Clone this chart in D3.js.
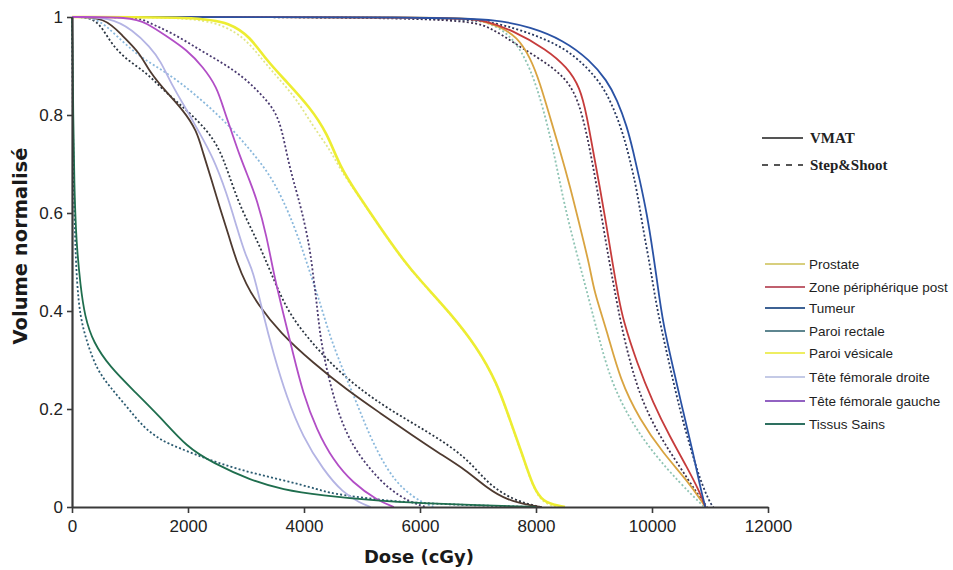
<!DOCTYPE html>
<html><head><meta charset="utf-8">
<script src="https://cdn.jsdelivr.net/npm/d3@7"></script>
<style>body{margin:0;background:#fff}svg{display:block}</style>
</head><body><svg id="c" width="953" height="570"></svg>
<script>
// ---------- data ----------
const xTicks = [0, 2000, 4000, 6000, 8000, 10000, 12000];
const yTicks = [0, 0.2, 0.4, 0.6, 0.8, 1];
const structures = ["Prostate","Zone périphérique post","Tumeur","Paroi rectale","Paroi vésicale","Tête fémorale droite","Tête fémorale gauche","Tissus Sains"];
const techniques = ["VMAT","Step&Shoot"];

// [dose (cGy), normalised volume]
const prostateVMAT = [[0,1],[6700,1],[7030,0.994],[7380,0.98],[7670,0.96],[7900,0.918],[8070,0.865],[8240,0.796],[8410,0.729],[8590,0.653],[8760,0.571],[8930,0.49],[9000,0.44],[9220,0.361],[9450,0.259],[9790,0.178],[10190,0.11],[10600,0.055],[10880,0.008],[10920,0]];
const prostateSS = [[0,1],[6700,1],[7200,0.99],[7600,0.96],[7900,0.898],[8120,0.816],[8300,0.729],[8470,0.627],[8640,0.545],[8810,0.47],[9050,0.361],[9280,0.259],[9620,0.178],[10020,0.11],[10480,0.049],[10830,0.008],[10900,0]];
const zoneVMAT = [[0,1],[6700,1],[7100,0.993],[7600,0.973],[8190,0.933],[8530,0.898],[8760,0.857],[8880,0.796],[8980,0.729],[9100,0.653],[9220,0.571],[9330,0.49],[9420,0.43],[9500,0.382],[9740,0.294],[10020,0.212],[10310,0.143],[10600,0.082],[10830,0.029],[10920,0]];
const zoneSS = [[0,1],[6700,1],[7210,0.98],[7720,0.939],[8300,0.898],[8640,0.857],[8810,0.796],[8930,0.729],[9050,0.653],[9160,0.571],[9280,0.49],[9360,0.44],[9450,0.382],[9620,0.294],[9840,0.212],[10140,0.143],[10480,0.082],[10770,0.029],[10950,0]];
const tumeurVMAT = [[0,1],[6500,1],[7330,0.994],[7900,0.98],[8470,0.953],[8930,0.912],[9220,0.871],[9400,0.831],[9570,0.776],[9670,0.729],[9790,0.667],[9910,0.6],[10020,0.518],[10100,0.45],[10190,0.375],[10360,0.286],[10530,0.198],[10710,0.11],[10830,0.041],[10920,0]];
const tumeurSS = [[0,1],[6600,1],[7330,0.988],[7900,0.967],[8470,0.939],[8880,0.898],[9160,0.857],[9330,0.816],[9500,0.763],[9620,0.708],[9740,0.647],[9840,0.571],[9970,0.49],[10050,0.43],[10140,0.375],[10310,0.286],[10480,0.198],[10660,0.122],[10830,0.055],[11000,0.008],[11060,0]];
const rectaleVMAT = [[0,1],[570,1],[880,0.96],[1170,0.927],[1345,0.886],[1640,0.845],[1915,0.81],[2150,0.769],[2260,0.722],[2400,0.67],[2550,0.61],[2700,0.555],[2840,0.5],[3000,0.455],[3190,0.416],[3590,0.355],[4160,0.294],[4740,0.239],[5310,0.192],[5880,0.145],[6300,0.112],[6800,0.075],[7150,0.039],[7500,0.014],[7950,0.002],[8100,0]];
const rectaleSS = [[0,1],[430,1],[655,0.947],[950,0.912],[1290,0.886],[1570,0.851],[1980,0.81],[2330,0.769],[2550,0.729],[2700,0.68],[2900,0.612],[3190,0.545],[3410,0.484],[3700,0.402],[4050,0.347],[4450,0.294],[4910,0.245],[5480,0.198],[6170,0.151],[6800,0.102],[7150,0.049],[7600,0.014],[8070,0]];
const vesicaleVMAT = [[0,1],[2200,1],[2720,0.988],[3070,0.96],[3350,0.912],[3700,0.868],[4100,0.816],[4400,0.763],[4620,0.694],[4910,0.641],[5310,0.571],[5710,0.504],[6000,0.463],[6520,0.396],[6980,0.327],[7330,0.253],[7550,0.178],[7780,0.102],[7950,0.041],[8120,0.01],[8410,0.002],[8500,0]];
const vesicaleSS = [[0,1],[2000,1],[2600,0.985],[3000,0.955],[3300,0.91],[3590,0.871],[3880,0.831],[4160,0.776],[4450,0.729],[4620,0.69],[4910,0.64],[5310,0.57],[5710,0.503],[6000,0.462],[6520,0.395],[6980,0.326],[7330,0.252],[7550,0.176],[7780,0.1],[7950,0.04],[8120,0.008],[8350,0]];
const droiteVMAT = [[0,1],[655,1],[1050,0.973],[1345,0.939],[1520,0.912],[1740,0.857],[1980,0.81],[2200,0.763],[2430,0.714],[2670,0.64],[2840,0.571],[3000,0.51],[3120,0.484],[3290,0.396],[3470,0.314],[3700,0.224],[3980,0.143],[4330,0.076],[4670,0.029],[4970,0.008],[5150,0]];
const droiteSS = [[0,1],[430,1],[780,0.96],[1170,0.918],[1640,0.886],[2030,0.851],[2430,0.81],[2780,0.769],[3120,0.722],[3400,0.68],[3640,0.627],[3880,0.559],[4080,0.487],[4280,0.416],[4450,0.347],[4670,0.28],[4910,0.212],[5140,0.143],[5430,0.076],[5710,0.035],[6050,0.008],[6250,0]];
const gaucheVMAT = [[0,1],[1000,1],[1290,0.988],[1640,0.96],[1980,0.933],[2260,0.898],[2500,0.857],[2620,0.81],[2740,0.77],[2900,0.714],[3050,0.67],[3190,0.627],[3360,0.551],[3470,0.48],[3640,0.396],[3810,0.314],[3980,0.233],[4220,0.157],[4500,0.096],[4840,0.049],[5260,0.014],[5550,0]];
const gaucheSS = [[0,1],[1150,1],[1290,0.99],[1740,0.967],[2200,0.933],[2600,0.906],[2950,0.878],[3240,0.845],[3500,0.81],[3620,0.77],[3720,0.71],[3830,0.66],[3960,0.606],[4100,0.53],[4160,0.47],[4220,0.416],[4280,0.347],[4390,0.28],[4570,0.198],[4800,0.131],[5140,0.076],[5480,0.035],[5830,0.01],[6100,0]];
const tissusVMAT = [[0,1],[10,0.95],[20,0.8],[40,0.65],[70,0.56],[90,0.524],[140,0.457],[220,0.388],[370,0.335],[655,0.286],[1050,0.239],[1520,0.184],[1980,0.122],[2430,0.09],[3070,0.055],[3640,0.035],[4280,0.024],[5310,0.012],[6000,0.008],[7000,0.004],[8000,0]];
const tissusSS = [[0,1],[10,0.85],[25,0.7],[50,0.55],[85,0.457],[140,0.388],[260,0.335],[430,0.28],[655,0.245],[950,0.204],[1230,0.163],[1520,0.137],[1810,0.122],[2430,0.093],[3070,0.07],[3640,0.055],[4280,0.035],[4450,0.028],[5300,0.014],[6000,0.008],[7000,0.003],[8000,0]];

const vmatSeries = [prostateVMAT, zoneVMAT, tumeurVMAT, rectaleVMAT, vesicaleVMAT, droiteVMAT, gaucheVMAT, tissusVMAT];
const ssSeries = [prostateSS, zoneSS, tumeurSS, rectaleSS, vesicaleSS, droiteSS, gaucheSS, tissusSS];

// ---------- styles ----------
const solidColors = ["#d9a441","#c63c3c","#2a52a4","#4e3a30","#eded32","#b4b4e4","#b24ec6","#1f6e4e"];
const dashColors  = ["#8fc4b4","#3c3050","#283860","#2a3440","#e2e688","#8ab8dc","#4a3a70","#2a5a70"];
const legendColors = ["#d8cf7e","#c0606e","#3e6294","#5e8690","#eeee62","#c4cae6","#9262c2","#2e7060"];

const svg = d3.select("#c");
const m = {l:72, t:17, r:768, b:507};
const x = d3.scaleLinear().domain([0,12000]).range([m.l, m.r]);
const y = d3.scaleLinear().domain([0,1]).range([m.b, m.t]);

const line = d3.line().x(d => x(d[0])).y(d => y(d[1])).curve(d3.curveBasis);

// dashed (Step&Shoot) first
ssSeries.forEach((s,i) => {
  svg.append("path").attr("d", line(s)).attr("fill","none")
    .attr("stroke", dashColors[i]).attr("stroke-width", 1.8)
    .attr("stroke-dasharray","2,2.2");
});
vmatSeries.forEach((s,i) => {
  svg.append("path").attr("d", line(s)).attr("fill","none")
    .attr("stroke", solidColors[i]).attr("stroke-width", i===4 ? 2.6 : 1.8);
});

// axes
const font = "'Liberation Sans', Arial, sans-serif";
const gx = svg.append("g").attr("transform", `translate(0,${m.b})`)
  .call(d3.axisBottom(x).tickValues(xTicks).tickFormat(d => String(d)).tickSize(6).tickSizeOuter(0));
const gy = svg.append("g").attr("transform", `translate(${m.l},0)`)
  .call(d3.axisLeft(y).tickValues(yTicks).tickFormat(d => String(d)).tickSize(5).tickSizeOuter(0));
[gx, gy].forEach(g => {
  g.select(".domain").attr("stroke","#3a3a3a").attr("stroke-width",2.2);
  g.selectAll(".tick line").attr("stroke","#3a3a3a").attr("stroke-width",1.6);
  g.selectAll("text").attr("font-family", font).attr("font-size", 17).attr("fill","#222");
});
gx.selectAll("text").attr("dy","0.95em");
gy.selectAll("text").attr("dx","-1px");

svg.append("text").attr("x", 419).attr("y", 563).attr("text-anchor","middle")
  .attr("font-family","'DejaVu Sans', sans-serif").attr("font-weight","bold").attr("font-size",18)
  .attr("fill","#1a1a1a").text("Dose (cGy)");
svg.append("text").attr("transform","translate(27,246) rotate(-90)").attr("text-anchor","middle")
  .attr("font-family","'DejaVu Sans', sans-serif").attr("font-weight","bold").attr("font-size",19.5)
  .attr("fill","#1a1a1a").text("Volume normalisé");

// technique legend
const techY = [138, 165];
techniques.forEach((t,i) => {
  svg.append("line").attr("x1",762).attr("x2",803).attr("y1",techY[i]).attr("y2",techY[i])
    .attr("stroke","#555").attr("stroke-width",2)
    .attr("stroke-dasharray", i ? "6,6" : null);
  svg.append("text").attr("x",810).attr("y",techY[i]+5)
    .attr("font-family","'Liberation Serif', 'DejaVu Serif', serif").attr("font-weight","bold")
    .attr("font-size",15).attr("fill","#222").text(t);
});

// structure legend
const legY = [264, 287, 308, 331, 353, 377, 401, 424];
structures.forEach((s,i) => {
  svg.append("line").attr("x1",765).attr("x2",805).attr("y1",legY[i]).attr("y2",legY[i])
    .attr("stroke", legendColors[i]).attr("stroke-width", 2.2);
  svg.append("text").attr("x",809).attr("y",legY[i]+5)
    .attr("font-family", font).attr("font-size",13.5).attr("fill","#1e1e1e").text(s);
});
</script></body></html>
